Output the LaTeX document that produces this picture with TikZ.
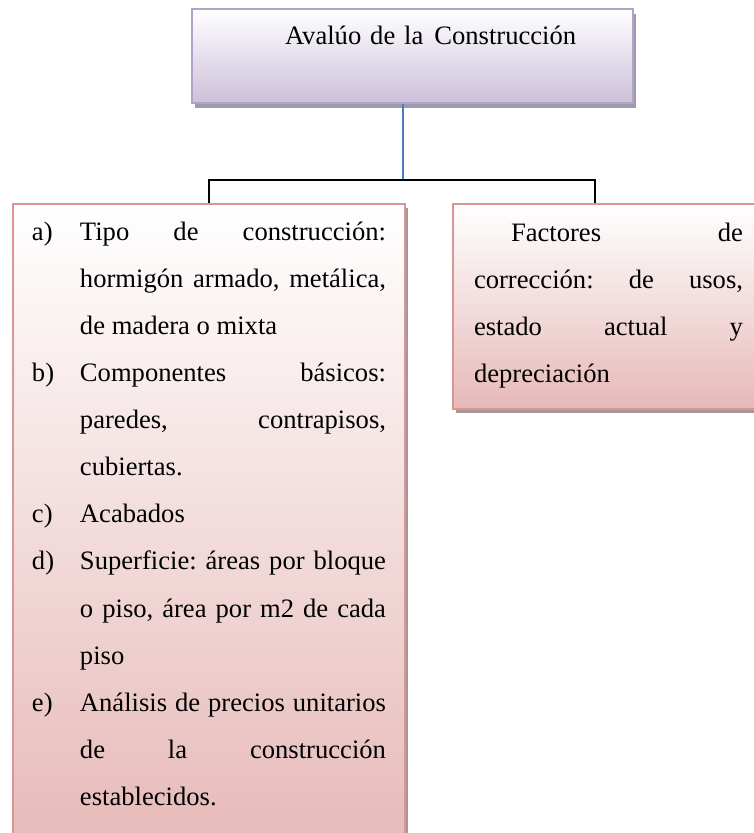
\documentclass[tikz,border=0pt]{standalone}
\usepackage{fontspec}
\setmainfont{Liberation Serif}
\usepackage{xcolor}
\usetikzlibrary{positioning,shadows}
\definecolor{lilaborde}{RGB}{179,162,199}
\definecolor{lilafondo}{RGB}{204,192,218}
\definecolor{lilasombra}{RGB}{160,152,174}
\definecolor{rosaborde}{RGB}{217,150,148}
\definecolor{rosafondo}{RGB}{230,185,184}
\definecolor{rosasombra}{RGB}{168,150,150}
\definecolor{azul}{RGB}{74,126,187}
\newcommand{\inciso}[2]{\hangindent=24pt\hangafter=1\noindent\makebox[24pt][l]{#1}#2\par}

\begin{document}
\begin{tikzpicture}[
    x=0.5pt, y=-0.5pt,
    texto/.style={font=\fontsize{13.3pt}{23.5pt}\selectfont\frenchspacing, align=justify},
    titulo/.style={texto, rectangle, draw=lilaborde, line width=1pt, top color=white, bottom color=lilafondo,
        drop shadow={shadow xshift=1.5pt, shadow yshift=-2.5pt, fill=lilasombra, opacity=1},
        inner sep=0pt, text width=220.5pt, align=left},
    caja/.style={texto, rectangle, draw=rosaborde, line width=1pt, top color=white, bottom color=rosafondo,
        drop shadow={shadow xshift=1.5pt, shadow yshift=-2pt, fill=rosasombra, opacity=1},
        inner ysep=0pt},
    link/.style={line width=0.75pt, black},
    bluelink/.style={line width=0.75pt, azul}
]
\useasboundingbox (0,0) rectangle (753,833);

% caja superior
\node[titulo, anchor=north west] (avaluo) at (191,8)
    {\rule{0pt}{18pt}\hspace*{46.5pt}Avalúo de la\hspace{5.5pt}Construcción\rule[-29pt]{0pt}{1pt}};

% caja izquierda
\node[caja, anchor=north west, inner xsep=9.5pt, text width=177pt] (tipos) at (12,203) {\hyphenpenalty=10000
    \inciso{a)}{\rule{0pt}{18.5pt}Tipo de construcción:\linebreak hormigón armado, metálica,\linebreak de madera o mixta}
    \inciso{b)}{Componentes básicos:\linebreak paredes, contrapisos,\linebreak cubiertas.}
    \inciso{c)}{Acabados}
    \inciso{d)}{Superficie: áreas por bloque\linebreak o piso, área por m2 de cada\linebreak piso}
    \inciso{e)}{Análisis de precios unitarios\linebreak de la construcción\linebreak establecidos.\rule[-25pt]{0pt}{1pt}}
};

% caja derecha
\node[caja, anchor=north west, inner xsep=10.5pt, text width=134.5pt] (factores) at (452,203) {\hyphenpenalty=10000
    \rule{0pt}{19pt}\hspace*{18.5pt}Factores de\linebreak corrección: de usos,\linebreak estado actual y\linebreak depreciación\rule[-13pt]{0pt}{1pt}
};

% conectores
\coordinate (hub) at (403,180);
\coordinate (drop) at (595,180);
\draw[bluelink] (avaluo.south -| hub) -- (hub);
\draw[link] (tipos.north) |- (hub) -| (factores.north -| drop);

\end{tikzpicture}
\end{document}
